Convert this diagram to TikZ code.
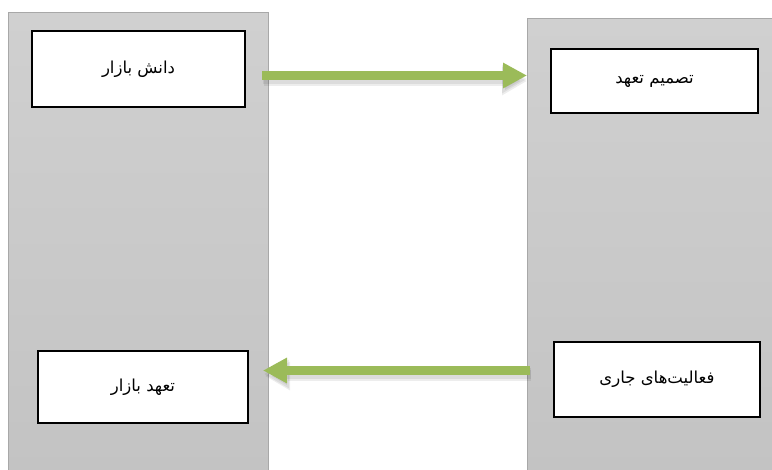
\documentclass[tikz,border=0pt]{standalone}
\usepackage{fontspec}
\newfontfamily\arabicfont[Script=Arabic]{DejaVu Sans}
\TeXXeTstate=1
\usetikzlibrary{arrows.meta}
\definecolor{panelline}{HTML}{A8A8A8}
\definecolor{paneltop}{HTML}{D0D0D0}
\definecolor{panelbot}{HTML}{C3C3C3}
\definecolor{agreen}{HTML}{9BBB59}
\begin{document}
\begin{tikzpicture}[x=1pt,y=-1pt,
  panel/.style={draw=panelline, line width=1pt, top color=paneltop, bottom color=panelbot,
    anchor=north west, inner sep=0pt},
  box/.style={draw=black, line width=1.8pt, fill=white, inner sep=0pt,
    font=\arabicfont\fontsize{16.5}{19}\selectfont},
  garrow/.style={draw=agreen, line width=8.5pt,
    -{Triangle[length=24pt,width=24pt]}},
  gshadow/.style={draw=black, opacity=0.07, line width=11pt,
    -{Triangle[length=25pt,width=27pt]}}
]
\useasboundingbox (0,0) rectangle (772,470);
\node[panel, minimum width=260pt, minimum height=462pt] (lp) at (8,12) {};
\node[panel, minimum width=252pt, minimum height=456pt] (rp) at (527,18) {};

\node[box, minimum width=213pt, minimum height=76pt] (b1) at (138.5,69) {\beginR دانش بازار\endR};
\node[box, minimum width=207pt, minimum height=64pt] (b2) at (654.5,81) {\beginR تصمیم تعهد\endR};
\node[box, minimum width=210pt, minimum height=72pt] (b3) at (143,387) {\beginR تعهد بازار\endR};
\node[box, minimum width=206pt, minimum height=75pt] (b4) at (657,379.5) {\beginR فعالیت‌های جاری\endR};

\coordinate (a1s) at (262,75.5);
\coordinate (a1e) at (527,75.5);
\coordinate (a2s) at (530,370.5);
\coordinate (a2e) at (263,370.5);
\coordinate (a1ss) at (263,79);
\coordinate (a1es) at (527,79);
\coordinate (a2ss) at (531,374);
\coordinate (a2es) at (264,374);
\coordinate (a1sb) at (264,81);
\coordinate (a1eb) at (527,81);
\coordinate (a2sb) at (531,376);
\coordinate (a2eb) at (265,376);

\draw[gshadow] (a1sb) -- (a1eb);
\draw[gshadow] (a2sb) -- (a2eb);
\draw[gshadow] (a1ss) -- (a1es);
\draw[gshadow] (a2ss) -- (a2es);
\draw[garrow] (a1s) -- (a1e);
\draw[garrow] (a2s) -- (a2e);
\end{tikzpicture}
\end{document}
